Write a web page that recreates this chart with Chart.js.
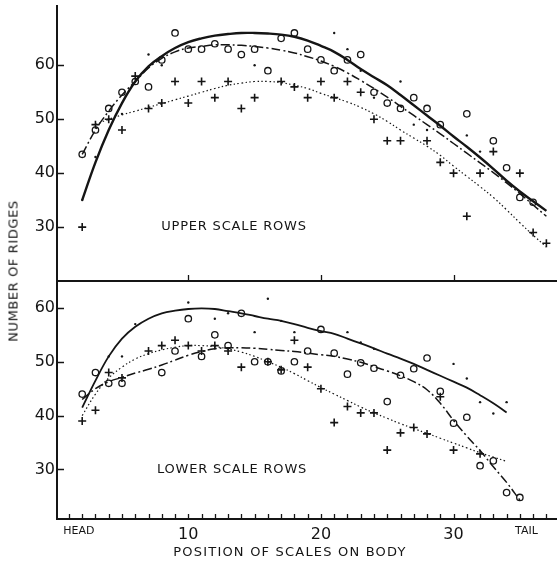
<!DOCTYPE html>
<html><head><meta charset="utf-8">
<script src="https://cdn.jsdelivr.net/npm/chart.js@4.4.0/dist/chart.umd.min.js"></script>
<style>
html,body{margin:0;padding:0;background:#fff;}
body{width:557px;height:563px;position:relative;overflow:hidden;font-family:"DejaVu Sans",sans-serif;color:#151515;}
.wrap{position:absolute;left:0;width:557px;}
#wrapTop{top:0;height:290px;}
#wrapBot{top:270px;height:293px;}
.lbl{position:absolute;white-space:nowrap;font-size:13px;letter-spacing:0.8px;transform:translate(-50%,-50%);}
.ytitle{position:absolute;white-space:nowrap;font-size:13px;letter-spacing:0.6px;transform:translate(-50%,-50%) rotate(-90deg);}
</style></head><body>
<div class="wrap" id="wrapTop"><canvas id="topChart"></canvas></div>
<div class="wrap" id="wrapBot"><canvas id="botChart"></canvas></div>
<div class="lbl" style="left:234px;top:225px">UPPER SCALE ROWS</div>
<div class="lbl" style="left:232px;top:468px">LOWER SCALE ROWS</div>
<div class="lbl" style="left:290px;top:551px;letter-spacing:1.2px">POSITION OF SCALES ON BODY</div>
<div class="ytitle" style="left:13px;top:271px">NUMBER OF RIDGES</div>
<script>
// ---------- DATA ----------
const yTickVals = [30, 40, 50, 60];
const xLabelPos = [1.75, 10, 20, 30, 35.5];
const xLabelText = ['HEAD', '10', '20', '30', 'TAIL'];
const xMinorTicks = [1,2,3,4,5,6,7,8,9,10,11,12,13,14,15,16,17,18,19,20,21,22,23,24,25,26,27,28,29,30,31,32,33,34,35,36,37];
const separatorTicks = [10, 20, 30];

// Upper scale rows: fitted curves
const upperSolidX = [2,3,4,5,6,7,8,9,10,11,12,13,14,15,16,17,18,19,20,21,22,23,24,25,26,27,28,29,30,31,32,33,34,35,36,37];
const upperSolidY = [35,42,48,53,57,59.8,61.7,63.2,64.3,65,65.5,65.8,66,66,65.9,65.7,65.3,64.6,63.6,62.5,61,59.3,57.8,56.3,54.5,52.6,50.7,48.8,46.8,44.9,42.9,40.8,38.6,36.6,34.8,33];
const upperDashX = [2,3,4,5,6,7,8,9,10,11,12,13,14,15,16,17,18,19,20,21,22,23,24,25,26,27,28,29,30,31,32,33,34,35,36,37];
const upperDashY = [43.5,48,51.5,54.5,57,59.5,61.3,62.5,63.2,63.5,63.8,63.8,63.7,63.5,63.2,62.8,62.3,61.6,60.8,59.8,58.6,57.2,55.7,54.1,52.4,50.7,49,47.3,45.5,43.7,41.9,40.1,38.2,36.2,34.1,32];
const upperDotX = [3,4,5,6,7,8,9,10,11,12,13,14,15,16,17,18,19,20,21,22,23,24,25,26,27,28,29,30,31,32,33,34,35,36,37];
const upperDotY = [49,50,50.8,51.5,52.2,52.9,53.6,54.3,55,55.7,56.3,56.7,57,57,56.8,56.3,55.7,54.8,54,53.2,52.2,51,49.6,48,46.5,45,43.3,41.3,39.4,37.5,35.5,33.2,30.8,28.5,26.3];
// Upper scale rows: observations
const upperCircleX = [2,3,4,5,6,7,8,9,10,11,12,13,14,15,16,17,18,19,20,21,22,23,24,25,26,27,28,29,31,33,34,35,36];
const upperCircleY = [43.5,48,52,55,57,56,61,66,63,63,64,63,62,63,59,65,66,63,61,59,61,62,55,53,52,54,52,49,51,46,41,35.5,34.6];
const upperPlusX = [2,3,4,5,6,7,8,9,10,11,12,13,14,15,17,18,19,20,21,22,23,24,25,26,28,29,30,31,32,33,35,36,37];
const upperPlusY = [30,49,50,48,58,52,53,57,53,57,54,57,52,54,57,56,54,57,54,57,55,50,46,46,46,42,40,32,40,44,40,29,27];
const upperSmallX = [2,3,4,5,7,8,15,21,22,23,24,26,27,28,31,32];
const upperSmallY = [35,43,50,51,62,60,60,66,63,59,54,57,49,48,47,44];

// Lower scale rows: fitted curves
const lowerSolidX = [2,3,4,5,6,7,8,9,10,11,12,13,14,15,16,17,18,19,20,21,22,23,24,25,26,27,28,29,30,31,32,33,34];
const lowerSolidY = [41.5,46.5,51,54.3,56.5,58,59,59.5,59.8,59.9,59.8,59.4,59,58.5,58,57.6,57,56.3,55.7,55.2,54.3,53.4,52.5,51.5,50.6,49.6,48.5,47.4,46.3,45.2,43.8,42.3,40.6];
const lowerDashX = [2,3,4,5,6,7,8,9,10,11,12,13,14,15,16,17,18,19,20,21,22,23,24,25,26,27,28,29,30,31,32,33,34,35];
const lowerDashY = [43,45,46.3,47.1,47.9,48.6,49.4,50.3,51.2,51.9,52.4,52.6,52.6,52.5,52.3,52.1,51.9,51.6,51.3,51,50.5,49.9,49.1,48.3,47.4,46.3,44.8,42.3,39.1,36.2,33.5,30.5,27.6,24.3];
const lowerDotX = [2,3,4,5,6,7,8,9,10,11,12,13,14,15,16,17,18,19,20,21,22,23,24,25,26,27,28,29,30,31,32,33,34];
const lowerDotY = [40,44,47,49,50.5,51.5,52.2,52.7,53,53,52.8,52.4,51.8,51,50,49,47.8,46.5,45.2,44,42.8,41.6,40.5,39.5,38.5,37.6,36.7,35.8,34.9,34,33.1,32.3,31.5];
// Lower scale rows: observations
const lowerCircleX = [2,3,4,5,8,9,10,11,12,13,14,15,16,17,18,19,20,21,22,23,24,25,26,27,28,29,30,31,32,33,34,35];
const lowerCircleY = [44,48,46,46,48,52,58,51,55,53,59,50,50,48.3,50,52,56,51.6,47.7,49.8,48.8,42.6,47.5,48.7,50.7,44.5,38.6,39.7,30.7,31.6,25.7,24.8];
const lowerPlusX = [2,3,4,5,7,8,9,10,11,12,13,14,16,17,18,19,20,21,22,23,24,25,26,27,28,29,30,32];
const lowerPlusY = [39,41,48,47,52,53,54,53,52,53,52,49,50,48.5,54,49,45,38.7,41.7,40.5,40.5,33.6,36.8,37.8,36.6,43.5,33.6,32.9];
const lowerSmallX = [4,5,6,10,12,13,15,16,17,18,22,23,24,30,31,32,33,34];
const lowerSmallY = [51,51,57,61,58,59,55.5,61.7,57.6,55.5,55.5,53.6,52.4,49.6,46.9,42.5,40.4,42.5];

// ---------- HELPERS ----------
const INK = '#151515';
const pts = (xs, ys) => xs.map((x, i) => ({x: x, y: ys[i]}));
const curve = (xs, ys, width, dash) => ({
  data: pts(xs, ys), showLine: true, pointRadius: 0, pointHoverRadius: 0,
  borderColor: INK, borderWidth: width, borderDash: dash, tension: 0.4, fill: false
});
const circles = (xs, ys) => ({
  data: pts(xs, ys), showLine: false, pointStyle: 'circle', pointRadius: 3.2,
  pointBorderWidth: 1.3, pointBorderColor: INK, pointBackgroundColor: 'rgba(255,255,255,0)'
});
const crosses = (xs, ys) => ({
  data: pts(xs, ys), showLine: false, pointStyle: 'cross', pointRadius: 4,
  pointBorderWidth: 1.6, pointBorderColor: INK
});
const smallDots = (xs, ys) => ({
  data: pts(xs, ys), showLine: false, pointStyle: 'circle', pointRadius: 1.2,
  pointBorderWidth: 0, pointBackgroundColor: INK, pointBorderColor: INK
});

const innerTicks = {
  id: 'innerTicks',
  afterDraw(chart, args, opts) {
    const ctx = chart.ctx, xs = chart.scales.x, ys = chart.scales.y, a = chart.chartArea;
    ctx.save();
    ctx.strokeStyle = INK; ctx.lineWidth = 1.5;
    (opts.y || []).forEach(v => {
      const p = Math.round(ys.getPixelForValue(v)) + 0.5;
      ctx.beginPath(); ctx.moveTo(a.left, p); ctx.lineTo(a.left + 7, p); ctx.stroke();
    });
    ctx.lineWidth = 1.3;
    (opts.x || []).forEach(v => {
      const p = Math.round(xs.getPixelForValue(v)) + 0.5;
      ctx.beginPath(); ctx.moveTo(p, a.bottom); ctx.lineTo(p, a.bottom - opts.xLen); ctx.stroke();
    });
    ctx.restore();
  }
};

const yAxis = (min, max) => ({
  type: 'linear', min: min, max: max,
  afterBuildTicks: s => { s.ticks = yTickVals.map(v => ({value: v})); },
  afterFit: s => { s.width = 57; s.paddingTop = 0; s.paddingBottom = 0; },
  ticks: { color: INK, padding: 2, font: {family: 'DejaVu Sans', size: 16} },
  grid: { display: true, drawOnChartArea: false, drawTicks: false },
  border: { display: true, color: INK, width: 2 }
});

const baseOpts = {
  responsive: true, maintainAspectRatio: false, animation: false,
  plugins: { legend: {display: false}, tooltip: {enabled: false} },
  events: []
};

new Chart(document.getElementById('topChart'), {
  type: 'scatter',
  data: { datasets: [
    curve(upperSolidX, upperSolidY, 2.4, []),
    curve(upperDashX, upperDashY, 1.5, [9, 3, 2, 3]),
    curve(upperDotX, upperDotY, 1.2, [1.5, 2.5]),
    circles(upperCircleX, upperCircleY),
    crosses(upperPlusX, upperPlusY),
    smallDots(upperSmallX, upperSmallY)
  ]},
  options: Object.assign({}, baseOpts, {
    layout: { autoPadding: false, padding: {top: 6, left: 0, right: 0, bottom: 0} },
    plugins: Object.assign({}, baseOpts.plugins, { innerTicks: { y: yTickVals, x: separatorTicks, xLen: 6 } }),
    scales: {
      x: { type: 'linear', min: 0.1, max: 37.8,
        afterFit: s => { s.height = 9; s.paddingLeft = 0; s.paddingRight = 0; },
        ticks: { display: false },
        grid: { display: true, drawOnChartArea: false, drawTicks: false },
        border: { display: true, color: INK, width: 2 } },
      y: yAxis(20, 71)
    }
  }),
  plugins: [innerTicks]
});

new Chart(document.getElementById('botChart'), {
  type: 'scatter',
  data: { datasets: [
    curve(lowerSolidX, lowerSolidY, 1.8, []),
    curve(lowerDashX, lowerDashY, 1.5, [9, 3, 2, 3]),
    curve(lowerDotX, lowerDotY, 1.2, [1.5, 2.5]),
    circles(lowerCircleX, lowerCircleY),
    crosses(lowerPlusX, lowerPlusY),
    smallDots(lowerSmallX, lowerSmallY)
  ]},
  options: Object.assign({}, baseOpts, {
    layout: { autoPadding: false, padding: {top: 11, left: 0, right: 0, bottom: 0} },
    plugins: Object.assign({}, baseOpts.plugins, { innerTicks: { y: yTickVals, x: xMinorTicks, xLen: 5 } }),
    scales: {
      x: { type: 'linear', min: 0.1, max: 37.8,
        afterBuildTicks: s => { s.ticks = xLabelPos.map(v => ({value: v})); },
        afterFit: s => { s.height = 44; s.paddingLeft = 0; s.paddingRight = 0; },
        ticks: { display: true, autoSkip: false, maxRotation: 0, padding: 6, color: INK,
          callback: (v, i) => xLabelText[i],
          font: c => (c.index === 0 || c.index === xLabelText.length - 1)
            ? {family: 'DejaVu Sans', size: 11} : {family: 'DejaVu Sans', size: 16} },
        grid: { display: true, drawOnChartArea: false, drawTicks: false },
        border: { display: true, color: INK, width: 2 } },
      y: yAxis(20.8, 65)
    }
  }),
  plugins: [innerTicks]
});
</script>
</body></html>
